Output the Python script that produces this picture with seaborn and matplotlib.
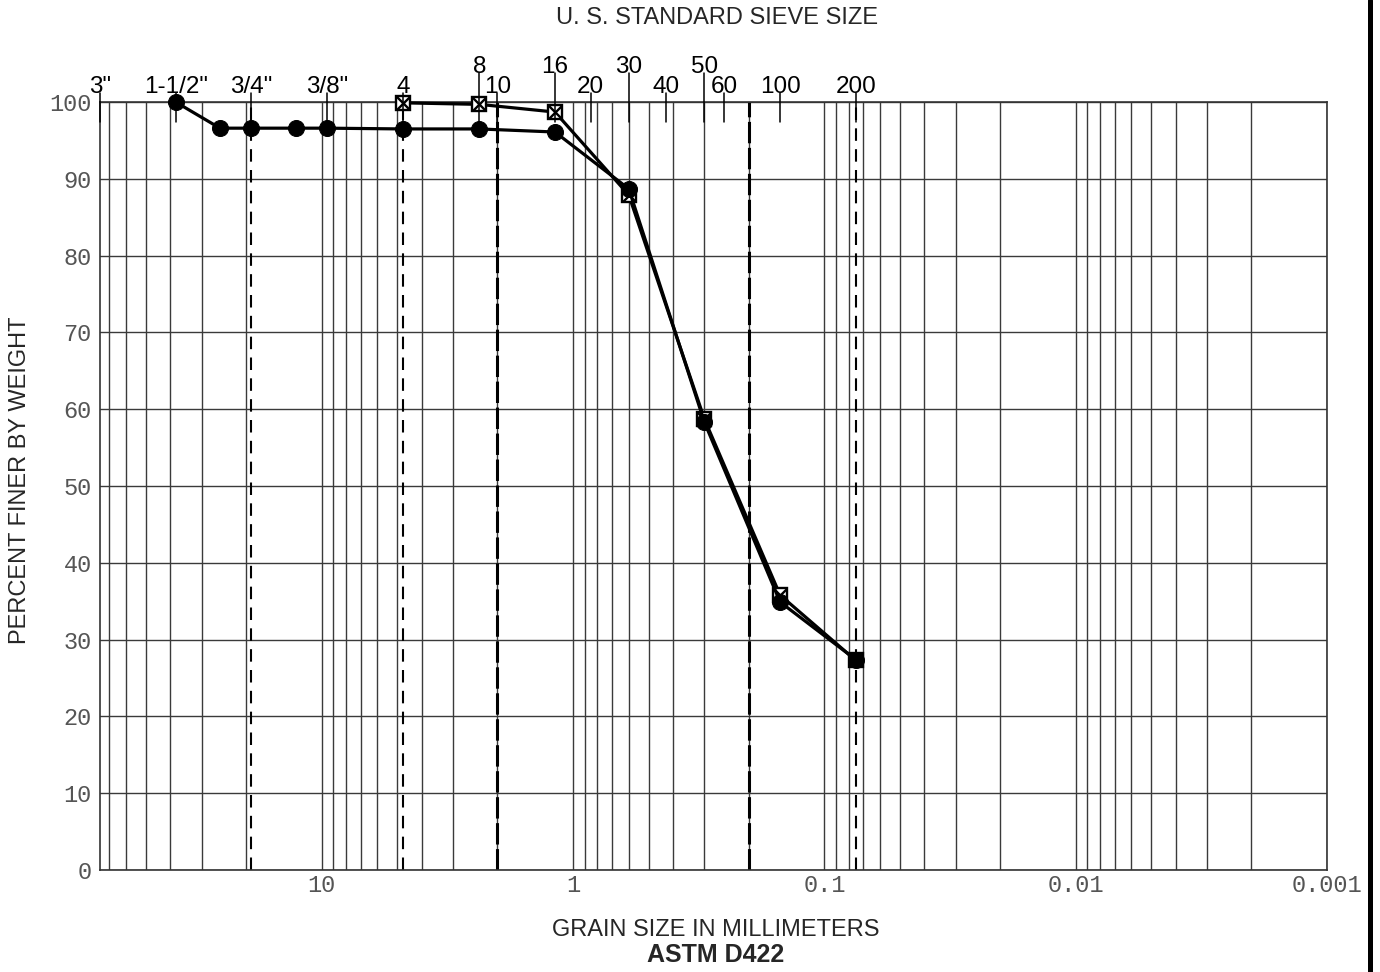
import numpy as np
import pandas as pd
import seaborn as sns
import matplotlib.pyplot as plt
from matplotlib.lines import Line2D
from matplotlib.ticker import LogLocator, FixedLocator, NullFormatter

# ---- data ----
# sample A (solid circles): grain size (mm) vs percent finer
circ_mm = [38.1, 25.4, 19.05, 12.7, 9.525, 4.75, 2.36, 1.18, 0.6, 0.3, 0.15, 0.075]
circ_pct = [100.0, 96.6, 96.6, 96.6, 96.6, 96.5, 96.5, 96.1, 88.7, 58.3, 34.9, 27.4]

# sample B (boxed x)
box_mm = [4.75, 2.36, 1.18, 0.6, 0.3, 0.15, 0.075]
box_pct = [99.9, 99.7, 98.7, 87.9, 58.7, 35.8, 27.3]

# U.S. standard sieves along the top
sieve_labels = ['3"', '1-1/2"', '3/4"', '3/8"', '4', '8', '10', '16',
                '20', '30', '40', '50', '60', '100', '200']
sieve_mm = [76.2, 38.1, 19.05, 9.525, 4.75, 2.36, 2.0, 1.18,
            0.85, 0.6, 0.425, 0.3, 0.25, 0.15, 0.075]
upper_row = ['8', '16', '30', '50']

# classification boundaries
thin_dash_mm = [19.05, 4.75, 0.075]
thick_dash_mm = [2.0, 0.2]

x_ticks = [10, 1, 0.1, 0.01, 0.001]
x_ticklabels = ['10', '1', '0.1', '0.01', '0.001']
y_ticks = list(range(0, 101, 10))

df_a = pd.DataFrame({"size": circ_mm, "finer": circ_pct})
df_b = pd.DataFrame({"size": box_mm, "finer": box_pct})

sns.set_style("white")
plt.rcParams['font.family'] = ['Liberation Sans', 'DejaVu Sans']

fig = plt.figure(figsize=(13.8, 9.72), dpi=100)
ax = fig.add_axes([0.0725, 0.1049, 0.8891, 0.7901])
ax.set_xscale('log')

# grid
ax.xaxis.set_major_locator(FixedLocator(x_ticks))
ax.xaxis.set_minor_locator(LogLocator(base=10, subs=range(2, 10), numticks=20))
ax.xaxis.set_minor_formatter(NullFormatter())
ax.set_xticks(x_ticks)
ax.set_xticklabels(x_ticklabels)
ax.set_yticks(y_ticks)
ax.grid(True, which='both', axis='x', color='#3a3a3a', lw=1.0)
ax.grid(True, which='major', axis='y', color='#3a3a3a', lw=1.0)
ax.set_axisbelow(True)

# boundary lines
for v in thin_dash_mm:
    ax.axvline(v, color='black', lw=1.5, ls=(0, (6, 4)), zorder=1.5)
for v in thick_dash_mm:
    ax.axvline(v, color='black', lw=2.2, ls=(0, (7, 1.5)), zorder=1.5)

# data
sns.lineplot(data=df_b, x="size", y="finer", ax=ax, color='black', lw=2.3,
             marker='s', markersize=10.5, markerfacecolor='white',
             markeredgecolor='black', markeredgewidth=1.7, zorder=3, clip_on=False)
sns.scatterplot(data=df_b, x="size", y="finer", ax=ax, marker='x', color='black',
                s=90, linewidth=1.7, zorder=4, clip_on=False)
sns.lineplot(data=df_a, x="size", y="finer", ax=ax, color='black', lw=2.3,
             marker='o', markersize=11.5, markeredgecolor='black',
             zorder=5, clip_on=False)

ax.set_xlim(76.2, 0.001)
ax.set_ylim(0, 100)
ax.set_xlabel('')
ax.set_ylabel('')

for s in ax.spines.values():
    s.set_color('#333333')
    s.set_linewidth(1.2)
    s.set_visible(True)

ax.tick_params(axis='both', which='both', length=0)
ax.tick_params(axis='x', pad=3)
ax.tick_params(axis='y', pad=6)
for lab in ax.get_xticklabels() + ax.get_yticklabels():
    lab.set_fontfamily('Liberation Mono')
    lab.set_fontsize(17)
    lab.set_color('#555555')

# sieve ticks and labels along the top
trans = ax.get_xaxis_transform()
for lab, mm in zip(sieve_labels, sieve_mm):
    top = 1.038 if lab in upper_row else 1.0117
    ax.plot([mm, mm], [0.974, top], transform=trans, color='black',
            lw=1.1, clip_on=False, zorder=6)
    ax.text(mm, top, lab, transform=trans, ha='center', va='baseline',
            fontsize=17.5, color='black')

fig.text(717 / 1380, 1 - 18 / 972, 'U. S. STANDARD SIEVE SIZE',
         ha='center', va='center', fontsize=17)
fig.text(716 / 1380, 1 - 930 / 972, 'GRAIN SIZE IN MILLIMETERS',
         ha='center', va='center', fontsize=17)
fig.text(716 / 1380, 1 - 955 / 972, 'ASTM D422', ha='center', va='center',
         fontsize=18, fontweight='bold')
fig.text(20 / 1380, 1 - 480 / 972, 'PERCENT FINER BY WEIGHT', rotation=90,
         ha='center', va='center', fontsize=17)

# heavy border bar at the right edge
fig.add_artist(Line2D([0.9928, 0.9928], [0, 1], transform=fig.transFigure,
                      color='black', lw=3.6))

fig.savefig("out.png", dpi=100)
